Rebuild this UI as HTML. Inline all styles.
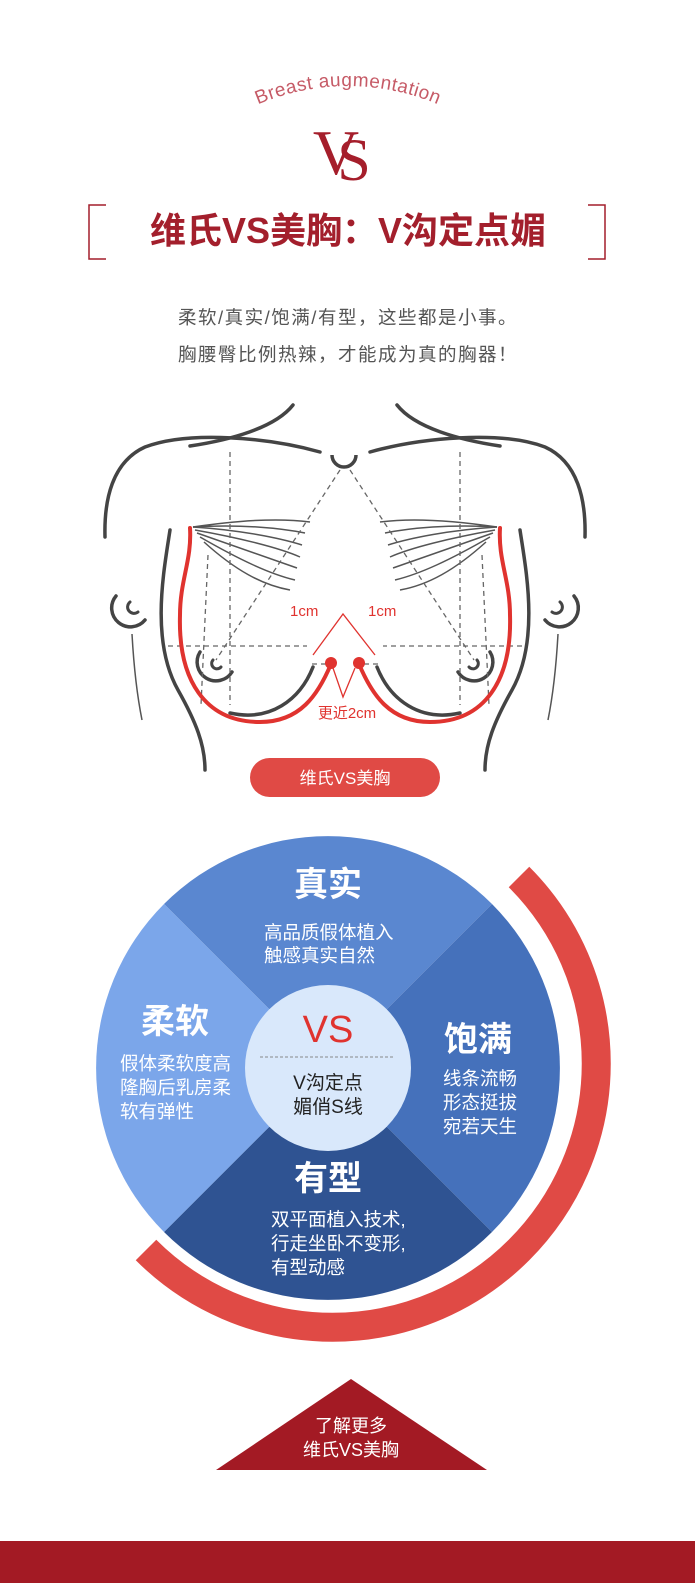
<!DOCTYPE html>
<html><head><meta charset="utf-8"><style>
html,body{margin:0;padding:0;background:#fff;}
body{width:695px;height:1583px;position:relative;overflow:hidden;font-family:"Liberation Sans","Noto Sans CJK SC",sans-serif;}
.a{position:absolute;white-space:nowrap;}
</style></head><body>
<svg class="a" style="left:0;top:0" width="695" height="1583" viewBox="0 0 695 1583" font-family="Liberation Sans, Noto Sans CJK SC, sans-serif">
<defs><path id="arc" d="M250,108 A230,230 0 0 1 446,108"/></defs>
<text font-size="19" fill="#c65b67" letter-spacing="0.5"><textPath href="#arc" startOffset="50%" text-anchor="middle">Breast augmentation</textPath></text>
<!-- logo -->
<text x="336" y="174" font-family="Liberation Serif, serif" font-size="64" fill="#a51e2b" text-anchor="middle">V</text>
<text x="354" y="180" font-family="Liberation Serif, serif" font-size="60" fill="#a51e2b" text-anchor="middle">S</text>
<!-- brackets -->
<path d="M106,205 H89 V259 H106 M588,205 H605 V259 H588" fill="none" stroke="#a31f2c" stroke-width="1.5"/>
<text x="348" y="243" font-size="36" font-weight="bold" fill="#a31f2c" text-anchor="middle">维氏VS美胸：V沟定点媚</text>
<text x="348" y="324" font-size="18.5" letter-spacing="1.5" fill="#555" text-anchor="middle">柔软/真实/饱满/有型，这些都是小事。</text>
<text x="348" y="361" font-size="18.5" letter-spacing="1.5" fill="#555" text-anchor="middle">胸腰臀比例热辣，才能成为真的胸器！</text>
<!-- illustration -->
<g id="half" fill="none">
<g stroke="#444" stroke-width="3.5" stroke-linecap="round">
<path d="M293,405 C275,428 230,440 190,446"/>
<path d="M320,452 C270,438 190,430 145,447 C112,462 104,500 105,537"/>
<path d="M170,530 C164,570 150,640 178,690 C196,722 205,745 205,770"/>
<path d="M313,667 C300,700 270,722 230,713"/>
<path d="M116,596 A17,17 0 0 0 145,620"/>
<path d="M130,602 A6,6 0 0 0 138,612" stroke-width="3"/>
<path d="M200,652 A17,17 0 0 0 232,672"/>
<path d="M213,660 A5,5 0 0 0 221,667" stroke-width="3"/>
</g>
<path d="M132,634 C134,670 138,700 142,720" stroke="#555" stroke-width="1.5"/>
<g stroke="#555" stroke-width="1.5">
<path d="M193,527 C240,520 280,518 310,522"/>
<path d="M193,527 C240,524 280,528 305,533"/>
<path d="M193,527 C240,530 280,538 302,545"/>
<path d="M195,530 C240,538 280,548 300,557"/>
<path d="M197,533 C240,548 275,560 297,568"/>
<path d="M200,537 C240,560 270,574 295,580"/>
<path d="M204,542 C235,570 262,585 290,590"/>
</g>
<g stroke="#666" stroke-width="1.3" stroke-dasharray="5,4">
<path d="M230,452 V705"/>
<path d="M208,555 L201,705"/>
<path d="M340,470 L216,660"/>
<path d="M168,646 H307"/>
<path d="M312,664 H328"/>
</g>
<path d="M190,528 C192,560 180,580 180,615 C178,680 205,722 260,722 C300,722 318,695 331,664" stroke="#e0332f" stroke-width="4" stroke-linecap="round"/>
<circle cx="331" cy="663" r="6" fill="#e0332f"/>
</g>
<use href="#half" transform="translate(690,0) scale(-1,1)"/>
<path d="M332,455 A12,12 0 0 0 356,455" fill="none" stroke="#444" stroke-width="3.5"/>
<path d="M313,655 L343,614 L375,655 M333,668 L343,697 L355,668" fill="none" stroke="#e0332f" stroke-width="1.3"/>
<text x="290" y="616" font-size="15" fill="#e0332f">1cm</text>
<text x="368" y="616" font-size="15" fill="#e0332f">1cm</text>
<text x="347" y="718" font-size="15" fill="#e0332f" text-anchor="middle">更近2cm</text>
<rect x="250" y="758" width="190" height="39" rx="19.5" fill="#e04a45"/>
<text x="345" y="784" font-size="17" fill="#fff" text-anchor="middle">维氏VS美胸</text>
<!-- circle chart -->
<path d="M519,877 A257,257 0 0 1 146,1250" fill="none" stroke="#e04a45" stroke-width="29"/>
<g transform="translate(328,1068)">
<path d="M0,0 L-164,-164 A232,232 0 0 1 164,-164 Z" fill="#5a87d0"/>
<path d="M0,0 L164,-164 A232,232 0 0 1 164,164 Z" fill="#4571bb"/>
<path d="M0,0 L164,164 A232,232 0 0 1 -164,164 Z" fill="#2f5392"/>
<path d="M0,0 L-164,164 A232,232 0 0 1 -164,-164 Z" fill="#7ba6ea"/>
<circle r="83" fill="#d9e8fb"/>
</g>
<g fill="#fff" text-anchor="middle">
<text x="328" y="896" font-size="34" font-weight="bold">真实</text>
<text x="175" y="1033" font-size="34" font-weight="bold">柔软</text>
<text x="478" y="1051" font-size="34" font-weight="bold">饱满</text>
<text x="328" y="1190" font-size="34" font-weight="bold">有型</text>
</g>
<g fill="#fff" font-size="18.5">
<text x="264" y="939">高品质假体植入</text>
<text x="264" y="962">触感真实自然</text>
<text x="120" y="1070">假体柔软度高</text>
<text x="120" y="1094">隆胸后乳房柔</text>
<text x="120" y="1118">软有弹性</text>
<text x="443" y="1085">线条流畅</text>
<text x="443" y="1109">形态挺拔</text>
<text x="443" y="1133">宛若天生</text>
<text x="271" y="1226">双平面植入技术,</text>
<text x="271" y="1250">行走坐卧不变形,</text>
<text x="271" y="1274">有型动感</text>
</g>
<text x="328" y="1042" font-size="38" fill="#e0332f" text-anchor="middle">VS</text>
<path d="M260,1057 H395" stroke="#888" stroke-width="1" stroke-dasharray="3,2"/>
<text x="328" y="1089" font-size="19" fill="#222" text-anchor="middle">V沟定点</text>
<text x="328" y="1113" font-size="19" fill="#222" text-anchor="middle">媚俏S线</text>
<!-- bottom -->
<path d="M351,1379 L487,1470 L216,1470 Z" fill="#a31a24"/>
<text x="351" y="1432" font-size="18" fill="#fff" text-anchor="middle">了解更多</text>
<text x="351" y="1456" font-size="18" fill="#fff" text-anchor="middle">维氏VS美胸</text>
<rect x="0" y="1541" width="695" height="42" fill="#a31a24"/>
</svg>
</body></html>
